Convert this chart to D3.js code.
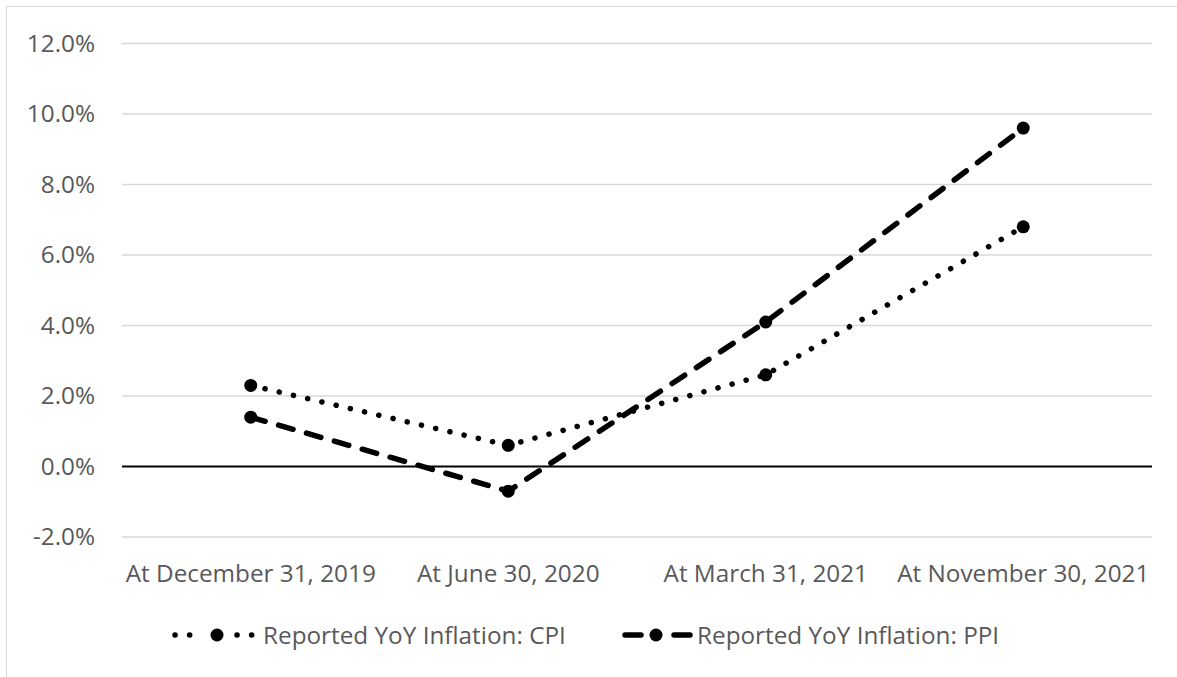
<!DOCTYPE html>
<html>
<head>
<meta charset="utf-8">
<script src="https://cdn.jsdelivr.net/npm/d3@7"></script>
<style>
  body { margin: 0; background: #fff; }
  text { font-family: "Open Sans", "Liberation Sans", sans-serif; }
</style>
</head>
<body>
<script>
// chart size
var w = 1177;
var h = 677;

// data
var categories = ["At December 31, 2019", "At June 30, 2020", "At March 31, 2021", "At November 30, 2021"];
var cpi = [2.3, 0.6, 2.6, 6.8];
var ppi = [1.4, -0.7, 4.1, 9.6];
var seriesNames = ["Reported YoY Inflation: CPI", "Reported YoY Inflation: PPI"];
var yTicks = [-2, 0, 2, 4, 6, 8, 10, 12];

var plot = { left: 122, right: 1152, top: 43.5, bottom: 537 };
var fontSize = "24.3px";
var textColor = "#595959";
var dotDash = "0.1 14.5";
var longDash = "15 14";

var svg = d3.select("body")
  .append("svg")
  .attr("width", w)
  .attr("height", h);

// faint outer frame
svg.append("rect")
  .attr("x", 6.5).attr("y", 6.5)
  .attr("width", w + 20).attr("height", h + 20)
  .attr("fill", "none")
  .attr("stroke", "#d9d9d9");

var xScale = d3.scaleBand()
  .domain(categories)
  .range([plot.left, plot.right]);

var yScale = d3.scaleLinear()
  .domain([-2, 12])
  .range([plot.bottom, plot.top]);

// gridlines
svg.append("g")
  .selectAll("line")
  .data(yTicks.filter(function(d) { return d !== 0; }))
  .enter()
  .append("line")
  .attr("x1", plot.left)
  .attr("x2", plot.right)
  .attr("y1", function(d) { return yScale(d); })
  .attr("y2", function(d) { return yScale(d); })
  .attr("stroke", "#d9d9d9")
  .attr("stroke-width", 1.3);

// y labels
var yAxis = d3.axisLeft(yScale)
  .tickValues(yTicks)
  .tickSize(0)
  .tickPadding(0)
  .tickFormat(function(d) { return d.toFixed(1) + "%"; });

var yG = svg.append("g")
  .attr("transform", "translate(95,0)")
  .call(yAxis);
yG.select(".domain").remove();
yG.selectAll("text")
  .attr("fill", textColor)
  .style("font-size", fontSize);

// zero line
svg.append("line")
  .attr("x1", plot.left)
  .attr("x2", plot.right)
  .attr("y1", yScale(0))
  .attr("y2", yScale(0))
  .attr("stroke", "#000")
  .attr("stroke-width", 2);

// x labels
var xAxis = d3.axisBottom(xScale).tickSize(0).tickPadding(0);
var xG = svg.append("g")
  .attr("transform", "translate(0,565)")
  .call(xAxis);
xG.select(".domain").remove();
xG.selectAll("text")
  .attr("fill", textColor)
  .style("font-size", fontSize);

var xPos = function(d, i) { return xScale(categories[i]) + xScale.bandwidth() / 2; };

var line = d3.line()
  .x(xPos)
  .y(function(d) { return yScale(d); });

var styles = [
  { data: cpi, dash: dotDash },
  { data: ppi, dash: longDash }
];

styles.forEach(function(s) {
  svg.append("path")
    .datum(s.data)
    .attr("d", line)
    .attr("fill", "none")
    .attr("stroke", "#000")
    .attr("stroke-width", 5.5)
    .attr("stroke-dasharray", s.dash)
    .attr("stroke-linecap", "round");

  svg.append("g")
    .selectAll("circle")
    .data(s.data)
    .enter()
    .append("circle")
    .attr("cx", xPos)
    .attr("cy", function(d) { return yScale(d); })
    .attr("r", 6.5)
    .attr("fill", "#000");
});

// legend
var legendY = 635;
var legend = [
  { x: 173, name: seriesNames[0], dash: dotDash, segs: [[2, 17], [64, 80]], marker: 44, textX: 90 },
  { x: 621, name: seriesNames[1], dash: "16 30", segs: [[4, 20], [53, 69]], marker: 35, textX: 76 }
];
legend.forEach(function(l) {
  var g = svg.append("g").attr("transform", "translate(" + l.x + "," + legendY + ")");
  l.segs.forEach(function(sg) {
    g.append("line")
      .attr("x1", sg[0]).attr("x2", sg[1])
      .attr("stroke", "#000").attr("stroke-width", 5.5)
      .attr("stroke-dasharray", l.dash).attr("stroke-linecap", "round");
  });
  g.append("circle").attr("cx", l.marker).attr("r", 6.5).attr("fill", "#000");
  g.append("text").attr("x", l.textX).attr("dy", "0.35em")
    .attr("fill", textColor).style("font-size", fontSize).text(l.name);
});
</script>
</body>
</html>
